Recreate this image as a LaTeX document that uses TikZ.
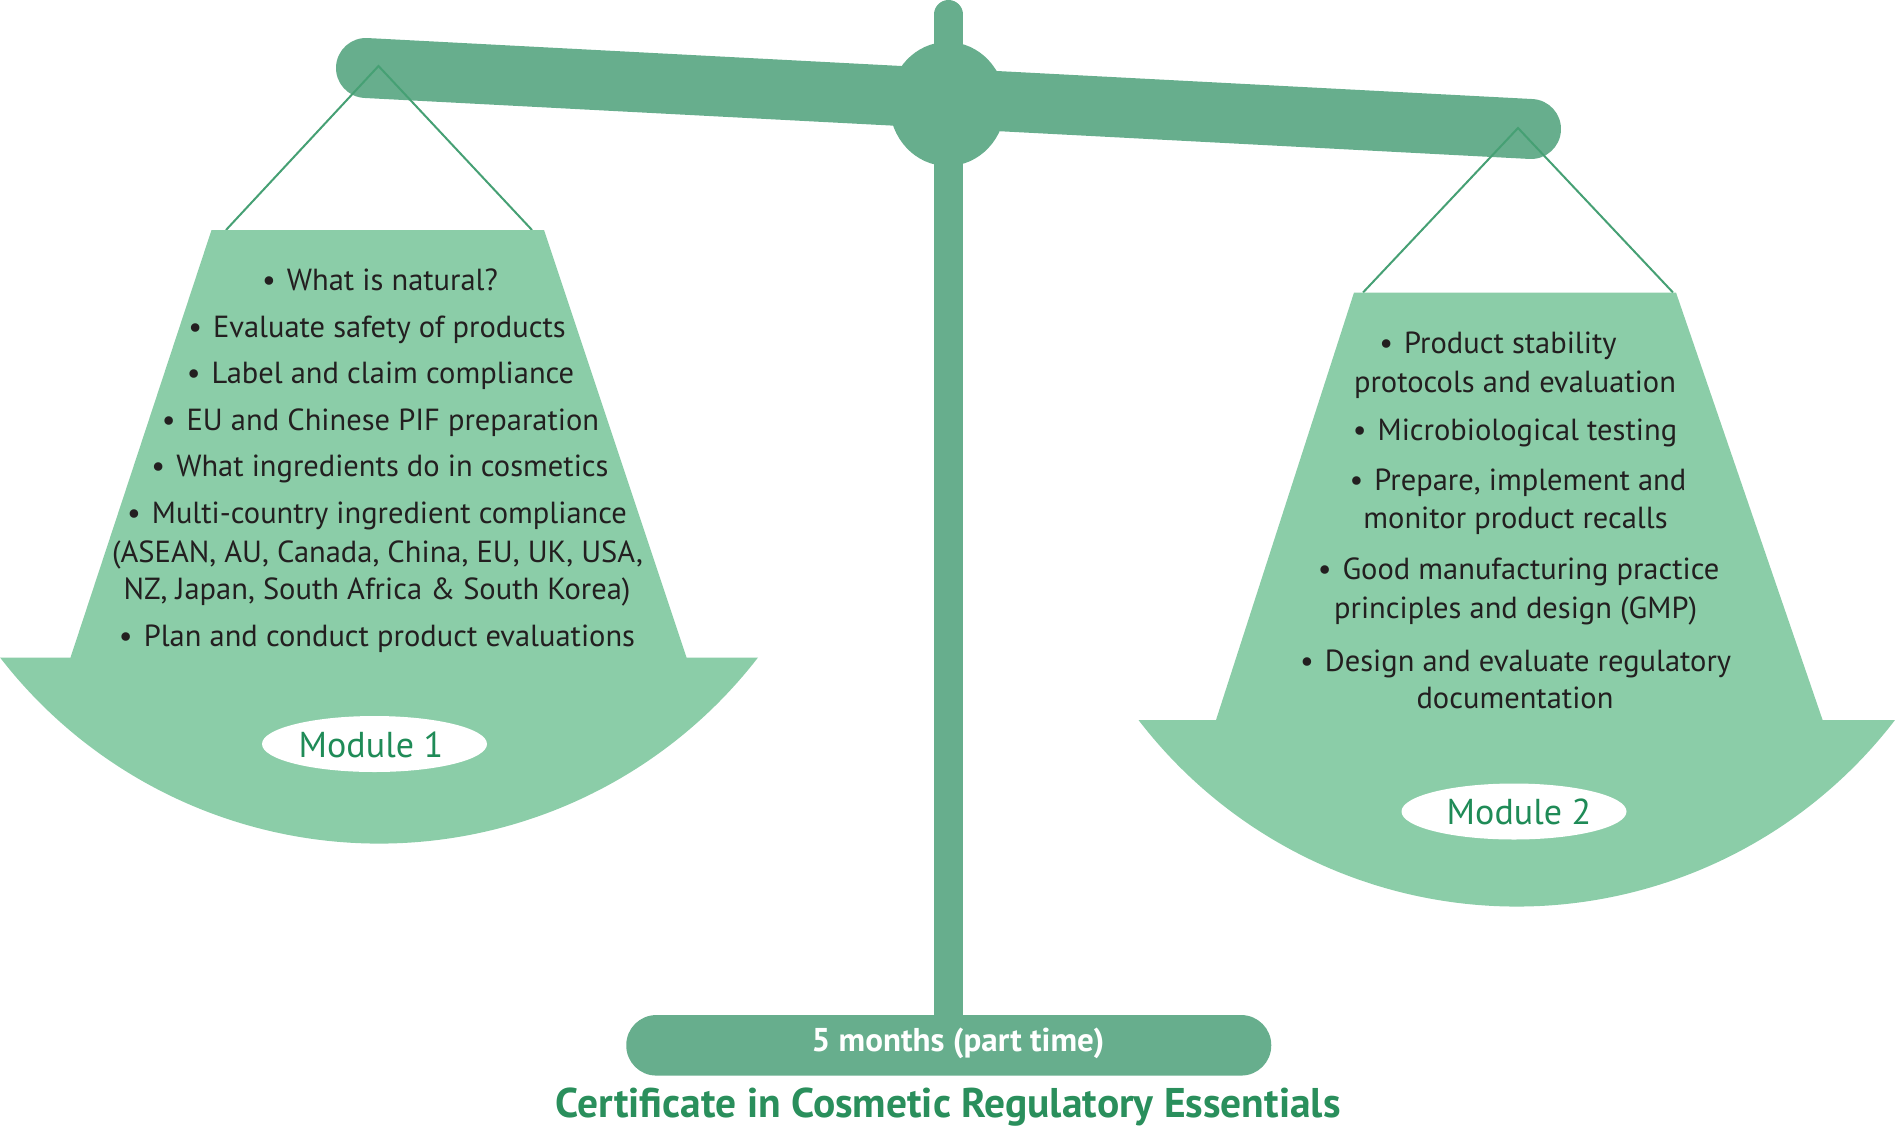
\documentclass[tikz,border=0pt]{standalone}
\usepackage{fontspec}
\setmainfont{PT Sans}
\usetikzlibrary{shapes.geometric}
\definecolor{beamc}{HTML}{67AE8D}
\definecolor{panc}{HTML}{8BCDA8}
\definecolor{ropec}{HTML}{46A074}
\definecolor{bodyc}{HTML}{231F20}
\definecolor{modc}{HTML}{1F8B57}
\definecolor{titlec}{HTML}{2A8F5C}
\newcommand{\bul}{•\hskip0.36em\relax}
\begin{document}
\begin{tikzpicture}[x=1pt,y=-1pt,
  item/.style={font=\fontsize{30.5}{38}\selectfont, text=bodyc, inner sep=0pt, anchor=base},
  modlabel/.style={ellipse, fill=white, minimum width=225pt, minimum height=56pt, inner sep=0pt},
  modtext/.style={font=\fontsize{36}{40}\selectfont, text=modc, inner sep=0pt, anchor=base},
  rope/.style={draw=ropec, line width=2pt},
  pan/.style={fill=panc}]
\useasboundingbox (0,0) rectangle (1895,1128);
% post, beam, hub, base
\draw[beamc, line width=29pt, line cap=round] (948.5,14.5) -- (948.5,1030);
\draw[beamc, line width=60pt, line cap=round] (366,68) -- (1531,129);
\fill[beamc] (947.5,104) ellipse [x radius=58pt, y radius=62pt];
\node[fill=beamc, rounded corners=30pt, minimum width=645pt, minimum height=60.5pt, inner sep=0pt] (base) at (948.75,1045.3) {};
\node[font=\fontsize{33}{36}\selectfont\bfseries, text=white, inner sep=0pt, anchor=base] (dur) at (958,1051) {5 months (part time)};
\node[font=\fontsize{41.5}{46}\selectfont\bfseries, text=titlec, inner sep=0pt, anchor=base] (title) at (948,1117) {Certificate in Cosmetic Regulatory Essentials};
% ropes
\coordinate (la) at (378.5,66);
\coordinate (ll) at (226,230);
\coordinate (lr) at (532,230);
\coordinate (ra) at (1518,128);
\coordinate (rl) at (1363,292.5);
\coordinate (rr) at (1673,292.5);
\draw[rope] (ll) -- (la) -- (lr);
\draw[rope] (rl) -- (ra) -- (rr);
% left pan
\fill[pan] (211.5,230) -- (544,230) -- (686.5,657.5) -- (758,657.5)
  arc[start angle=-37.7, end angle=-142.3, radius=479pt] -- (70.5,657.5) -- cycle;
% right pan
\fill[pan] (1354,292.5) -- (1676,292.5) -- (1822.6,720) -- (1895,720)
  arc[start angle=-37.5, end angle=-142.5, radius=476.8pt] -- (1216,720) -- cycle;
% module labels
\node[modlabel] (m1) at (374.5,744) {};
\node[modtext] (m1t) at (371,757) {Module 1};
\node[modlabel] (m2) at (1514,811.5) {};
\node[modtext] (m2t) at (1519,824.5) {Module 2};
% left list
\node[item] (l1) at (380,290) {\bul What is natural?};
\node[item] (l2) at (377,337) {\bul Evaluate safety of products};
\node[item] (l3) at (380.5,383) {\bul Label and claim compliance};
\node[item] (l4) at (380.5,430) {\bul EU and Chinese PIF preparation};
\node[item] (l5) at (380,476) {\bul What ingredients do in cosmetics};
\node[item] (l6) at (377,523) {\bul Multi-country ingredient compliance};
\node[item] (l7) at (377.5,562) {(ASEAN, AU, Canada, China, EU, UK, USA,};
\node[item] (l8) at (377,599.5) {NZ, Japan, South Africa \& South Korea)};
\node[item] (l9) at (377,646.5) {\bul Plan and conduct product evaluations};
% right list
\node[item] (r1) at (1498,353) {\bul Product stability};
\node[item] (r2) at (1515,392) {protocols and evaluation};
\node[item] (r3) at (1515,440) {\bul Microbiological testing};
\node[item] (r4) at (1518,490) {\bul Prepare, implement and};
\node[item] (r5) at (1515.5,528.5) {monitor product recalls};
\node[item] (r6) at (1518.6,579) {\bul Good manufacturing practice};
\node[item] (r7) at (1515.6,618) {principles and design (GMP)};
\node[item] (r8) at (1515.6,671) {\bul Design and evaluate regulatory};
\node[item] (r9) at (1515,708.5) {documentation};
\end{tikzpicture}
\end{document}
